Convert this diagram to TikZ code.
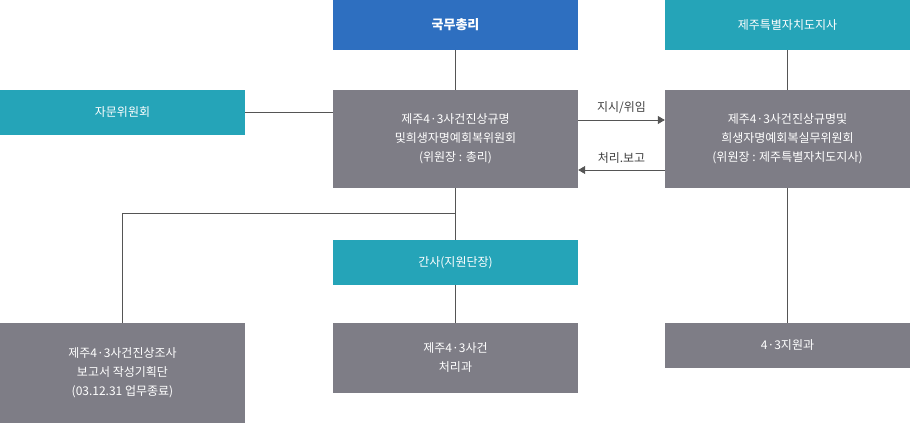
\documentclass[tikz,border=0pt]{standalone}
\usepackage{fontspec}
\setmainfont{Noto Sans CJK KR}
\usetikzlibrary{arrows.meta}
\definecolor{cblue}{HTML}{2E6FC0}
\definecolor{cteal}{HTML}{25A4B8}
\definecolor{cgray}{HTML}{7E7D86}
\definecolor{cline}{HTML}{555555}
\begin{document}
\begin{tikzpicture}[x=1pt,y=-1pt,
  bx/.style={draw=none,text=white,minimum width=245pt,inner sep=0pt,align=center,font=\fontsize{12}{19}\selectfont},
  ln/.style={draw=cline,line width=0.8pt},
  ar/.style={ln,-{Triangle[length=7pt,width=8pt]}}]
\useasboundingbox (0,0) rectangle (910,423);
\node[bx,fill=cblue,minimum height=50pt,font=\fontsize{13}{16}\selectfont\bfseries] (pm) at (455.5,25) {국무총리};
\node[bx,fill=cteal,minimum height=50pt] (gov) at (787.5,25) {제주특별자치도지사};
\node[bx,fill=cteal,minimum height=45pt] (adv) at (122.5,112.5) {자문위원회};
\node[bx,fill=cgray,minimum height=98pt] (cen) at (455.5,139) {제주4·3사건진상규명\\및희생자명예회복위원회\\(위원장 : 총리)};
\node[bx,fill=cgray,minimum height=98pt] (rgt) at (787.5,139) {제주4·3사건진상규명및\\희생자명예회복실무위원회\\(위원장 : 제주특별자치도지사)};
\node[bx,fill=cteal,minimum height=45pt] (sec) at (455.5,262.5) {간사(지원단장)};
\node[bx,fill=cgray,minimum height=100pt] (bl) at (122.5,373) {제주4·3사건진상조사\\보고서 작성기획단\\(03.12.31 업무종료)};
\node[bx,fill=cgray,minimum height=70pt] (bm) at (455.5,358) {제주4·3사건\\처리과};
\node[bx,fill=cgray,minimum height=45pt] (br) at (787.5,345.5) {4·3지원과};
\draw[ln] (pm) -- (cen);
\draw[ln] (gov) -- (rgt);
\draw[ln] (adv) -- (cen.west |- adv);
\draw[ln] (cen) -- (sec);
\draw[ln] (sec) -- (bm);
\draw[ln] (rgt) -- (br);
\coordinate (j) at (455.5,213);
\draw[ln] (j) -| (bl.north);
\draw[ar] (cen.east |- 0,120) -- node[above=3pt,text=black!75,font=\fontsize{12}{14}\selectfont]{지시/위임} (rgt.west |- 0,120);
\draw[ar] (rgt.west |- 0,170) -- node[above=3pt,text=black!75,font=\fontsize{12}{14}\selectfont]{처리.보고} (cen.east |- 0,170);
\end{tikzpicture}
\end{document}
